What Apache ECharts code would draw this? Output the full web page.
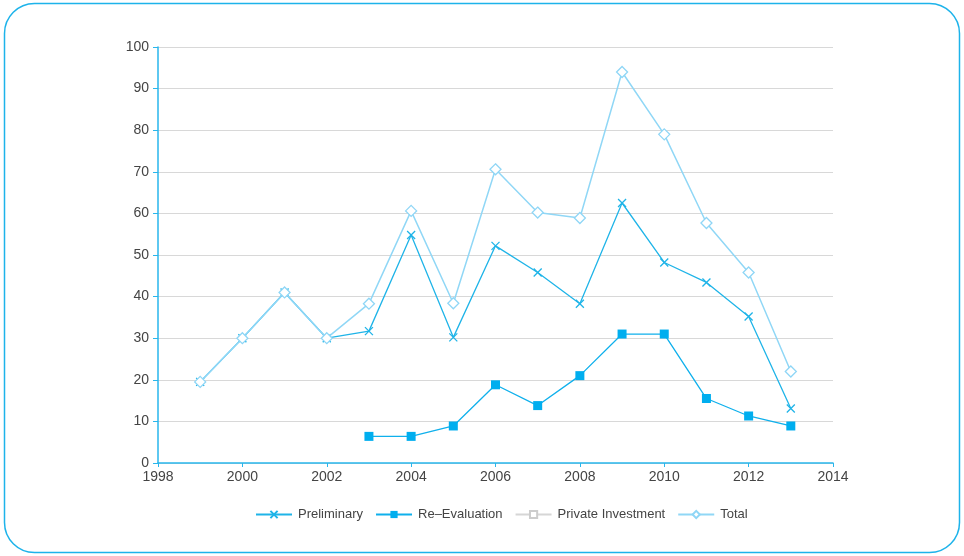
<!DOCTYPE html>
<html>
<head>
<meta charset="utf-8">
<style>
  html, body { margin: 0; padding: 0; background: #ffffff; }
  #chart { width: 964px; height: 556px; }
</style>
<script src="https://cdn.jsdelivr.net/npm/echarts@6/dist/echarts.min.js"></script>
</head>
<body>
<div id="chart"></div>
<script>
// Yearly figures by project type
const years = [1999, 2000, 2001, 2002, 2003, 2004, 2005, 2006, 2007, 2008, 2009, 2010, 2011, 2012, 2013];
const preliminary = [19.5, 30, 41, 30, 31.7, 54.8, 30.2, 52.2, 45.8, 38.3, 62.5, 48.2, 43.4, 35.2, 13.1];
const reEvaluation = [null, null, null, null, 6.4, 6.4, 8.9, 18.8, 13.8, 21.0, 31.0, 31.0, 15.5, 11.3, 8.9];
const privateInvestment = [null, null, null, null, null, null, null, null, null, null, null, null, null, null, null];
const total = [19.5, 30, 41, 30, 38.3, 60.6, 38.4, 70.6, 60.2, 58.9, 94.0, 79.0, 57.7, 45.8, 22.0];
const seriesNames = ['Preliminary', 'Re\u2013Evaluation', 'Private Investment', 'Total'];

const pairs = vals => years.map((y, i) => [y, vals[i]]);

const axisBlue = '#29b6ec';
const textColor = '#444444';
const font = 'Liberation Sans, Arial, sans-serif';

const chart = echarts.init(document.getElementById('chart'), null, { renderer: 'canvas' });

chart.setOption({
  animation: false,
  backgroundColor: '#ffffff',
  graphic: [{
    type: 'rect',
    z: -10,
    shape: { x: 4.5, y: 3.5, width: 955, height: 549, r: 30 },
    style: { fill: 'none', stroke: '#1db3ea', lineWidth: 1.5 }
  }],
  grid: { left: 158, right: 131, top: 47, bottom: 93, containLabel: false },
  legend: {
    bottom: 30,
    left: 250,
    itemWidth: 36,
    itemHeight: 9,
    itemGap: 12,
    textStyle: { color: textColor, fontSize: 13, fontFamily: font, padding: [0, 0, 0, 1] },
    data: seriesNames
  },
  xAxis: {
    type: 'value',
    min: 1998,
    max: 2014,
    interval: 2,
    axisLine: { show: true, lineStyle: { color: axisBlue, width: 1.5 } },
    axisTick: { show: true, length: 4, lineStyle: { color: axisBlue } },
    splitLine: { show: false },
    axisLabel: {
      color: textColor, fontSize: 14, fontFamily: font, margin: 7,
      formatter: v => String(v)
    }
  },
  yAxis: {
    type: 'value',
    min: 0,
    max: 100,
    interval: 10,
    axisLine: { show: true, lineStyle: { color: axisBlue, width: 1.5 } },
    axisTick: { show: true, length: 5, lineStyle: { color: axisBlue } },
    splitLine: { show: true, lineStyle: { color: '#d8d8d8', width: 1.2 } },
    axisLabel: { color: textColor, fontSize: 14, fontFamily: font, margin: 9 }
  },
  series: [
    {
      name: seriesNames[0],
      type: 'line',
      data: pairs(preliminary),
      symbol: 'path://M0,0L10,10M10,0L0,10',
      symbolSize: 8,
      showAllSymbol: true,
      lineStyle: { color: '#1fb4e8', width: 1.3 },
      itemStyle: { color: 'rgba(0,0,0,0)', borderColor: '#1fb4e8', borderWidth: 1.3 },
      z: 2
    },
    {
      name: seriesNames[1],
      type: 'line',
      data: pairs(reEvaluation),
      symbol: 'rect',
      symbolSize: 9,
      lineStyle: { color: '#0fb0ec', width: 1.3 },
      itemStyle: { color: '#00aeef', borderColor: '#00aeef', borderWidth: 0 },
      z: 3
    },
    {
      name: seriesNames[2],
      type: 'line',
      data: pairs(privateInvestment),
      symbol: 'rect',
      symbolSize: 8,
      lineStyle: { color: '#d6d6d6', width: 1.3 },
      itemStyle: { color: '#ffffff', borderColor: '#cccccc', borderWidth: 1 },
      z: 2
    },
    {
      name: seriesNames[3],
      type: 'line',
      data: pairs(total),
      symbol: 'diamond',
      symbolSize: 11,
      lineStyle: { color: '#90d7f6', width: 1.5 },
      itemStyle: { color: '#ffffff', borderColor: '#8fd6f6', borderWidth: 1.3 },
      z: 4
    }
  ]
});
</script>
</body>
</html>
